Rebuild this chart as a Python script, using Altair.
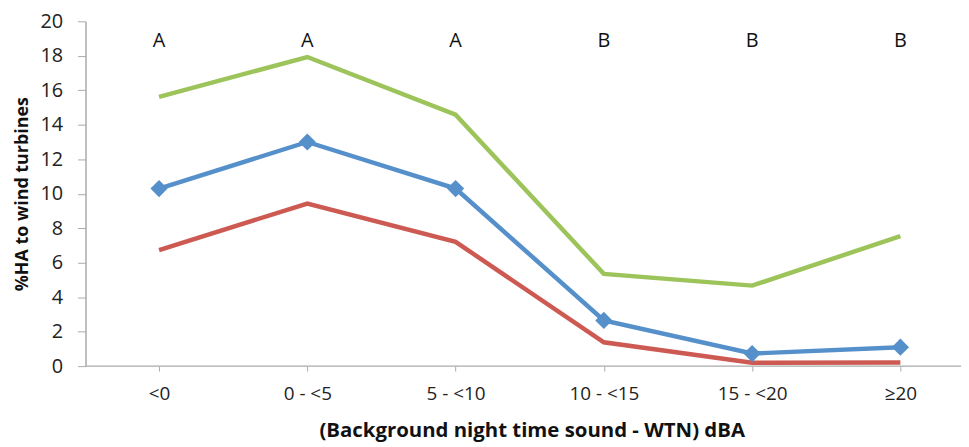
import altair as alt
import pandas as pd

categories = ["<0", "0 - <5", "5 - <10", "10 - <15", "15 - <20", "≥20"]
blue_vals = [10.3, 13.0, 10.3, 2.65, 0.73, 1.1]
red_vals = [6.73, 9.43, 7.21, 1.38, 0.2, 0.21]
green_vals = [15.62, 17.93, 14.58, 5.35, 4.67, 7.54]
letters = ["A", "A", "A", "B", "B", "B"]
letter_y = 18.85

rows = []
for s, vals in [("mean", blue_vals), ("lower", red_vals), ("upper", green_vals)]:
    for c, v in zip(categories, vals):
        rows.append({"cat": c, "series": s, "value": v})
df = pd.DataFrame(rows)
df_letters = pd.DataFrame({"cat": categories, "letter": letters, "value": [letter_y] * 6})

FONT = "Open Sans"
W, H = 875, 347
xscale = alt.Scale(type="point", domain=categories, range=[74, 820], padding=0)
yscale = alt.Scale(domain=[0, 20], nice=False)

xaxis = alt.Axis(title="(Background night time sound - WTN) dBA",
                 labelAngle=0, labelFontSize=19, labelFont=FONT,
                 labelColor="#222", labelPadding=14,
                 titleFont=FONT, titleFontSize=20.5, titleFontWeight="bold",
                 titleColor="#111", titlePadding=17,
                 domain=False, titleX=449,
                 tickColor="#aaaaaa", tickSize=5, grid=False)
yaxis = alt.Axis(title="%HA to wind turbines", values=list(range(0, 21, 2)),
                 labelFontSize=20, labelFont=FONT, labelColor="#222",
                 labelPadding=15, labelOverlap=False,
                 titleFont=FONT, titleFontSize=18, titleFontWeight="bold",
                 titleColor="#111", titlePadding=9,
                 domainColor="#aaaaaa", domainWidth=1.5,
                 tickColor="#aaaaaa", tickSize=8, grid=False)

x_enc = alt.X("cat:N", scale=xscale, sort=categories, axis=xaxis)
y_enc = alt.Y("value:Q", scale=yscale, axis=yaxis)

color = alt.Color("series:N", scale=alt.Scale(domain=["mean", "lower", "upper"],
                                             range=["#5590CB", "#CD5A52", "#9DC35B"]),
                  legend=None)

axis_line = alt.Chart(pd.DataFrame({"a": [0]})).mark_rule(
    color="#aaaaaa", strokeWidth=1.5
).encode(x=alt.value(0), x2=alt.value(W + 6), y=alt.value(H))

lines = alt.Chart(df).mark_line(strokeWidth=4.5).encode(x=x_enc, y=y_enc, color=color,
                                                         detail="series:N")
points = alt.Chart(df[df.series == "mean"]).mark_point(
    shape="diamond", filled=True, size=300, opacity=1, color="#5590CB"
).encode(x=x_enc, y=y_enc)
text = alt.Chart(df_letters).mark_text(fontSize=20, font=FONT, color="#111",
                                       baseline="middle").encode(
    x=x_enc, y=y_enc, text="letter:N")

chart = alt.layer(axis_line, lines, points, text).properties(
    width=W, height=H,
    autosize=alt.AutoSizeParams(type="none"),
    padding={"left": 78, "top": 12, "right": 6, "bottom": 80},
).configure_view(stroke=None)

chart.save("out.html", embed_options={"renderer": "svg", "actions": False})
